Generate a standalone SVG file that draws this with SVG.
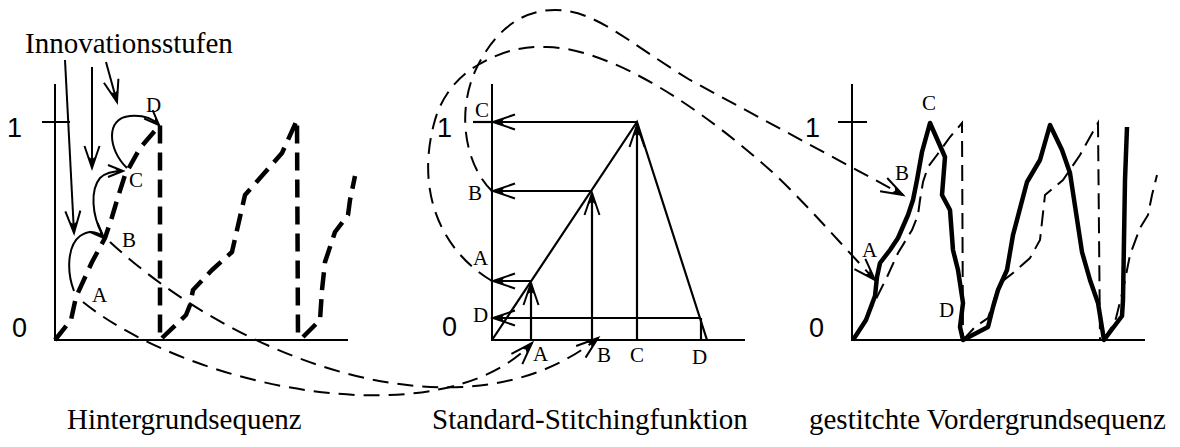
<svg xmlns="http://www.w3.org/2000/svg" width="1180" height="447" viewBox="0 0 1180 447">
<style>
.ax{stroke:#000;stroke-width:2;fill:none}
.ln{stroke:#000;stroke-width:2.2;fill:none}
.thk{stroke:#000;stroke-width:4.5;fill:none;stroke-dasharray:18 9;stroke-linejoin:round}
.thin{stroke:#000;stroke-width:2;fill:none;stroke-dasharray:16 9}
.bgd{stroke:#000;stroke-width:2;fill:none;stroke-dasharray:16 8}
.fg{stroke:#000;stroke-width:4.5;fill:none;stroke-linejoin:round}
.arr{stroke:#000;stroke-width:2;fill:none}
.num{font-family:"Liberation Sans",Arial,sans-serif;font-size:27px;fill:#000}
.let{font-family:"Liberation Serif","Times New Roman",serif;font-size:21px;fill:#000}
.cap{font-family:"Liberation Serif","Times New Roman",serif;font-size:29px;fill:#000}
.ttl{font-family:"Liberation Serif","Times New Roman",serif;font-size:29px;fill:#000}
</style>
<defs>
<marker id="ah" markerUnits="userSpaceOnUse" markerWidth="30" markerHeight="20" viewBox="-24 -10 30 20" refX="0" refY="0" orient="auto" overflow="visible">
<path d="M-22,-7.5 L0,0 L-22,7.5" fill="none" stroke="#000" stroke-width="2"/>
<path d="M0,0 L-11,-3.2 L-9,0 L-11,3.2Z" fill="#000"/>
</marker>
<marker id="as" markerUnits="userSpaceOnUse" markerWidth="20" markerHeight="14" viewBox="-16 -7 20 14" refX="0" refY="0" orient="auto" overflow="visible">
<path d="M-15,-6 L0,0 L-15,6" fill="none" stroke="#000" stroke-width="2"/>
<path d="M0,0 L-8,-2.5 L-6,0 L-8,2.5Z" fill="#000"/>
</marker>
</defs>
<rect width="1180" height="447" fill="#fff"/>

<g id="panel-hintergrund">
<path class="ax" d="M55,84 L55,340 L348,340 M42,122 L70,122"/>
<text class="num" x="7" y="137">1</text>
<text class="num" x="12" y="337">0</text>
<path class="thk" d="M55,340 L71,320 L76,297 L92,262 L105,238 L112,217 L118,197 L125,175 L140,148 L160,125 L160,340"/>
<path class="thk" d="M162,338 L186,315 L190,305 L193,290 L212,270 L232,252 L245,195 L282,153 L297,120 L298,340"/>
<path class="thk" d="M303,337 L320,320 L322,290 L325,262 L335,232 L348,215 L350,200 L355,176"/>
<text class="let" x="92" y="302">A</text>
<text class="let" x="122" y="247">B</text>
<text class="let" x="129" y="187">C</text>
<text class="let" x="146" y="112">D</text>
</g>

<g id="label-innovation">
<text class="ttl" x="25" y="53">Innovationsstufen</text>
</g>

<g id="panel-stitching">
<path class="ax" d="M492,84 L492,340 L745,340"/>
<text class="num" x="437" y="137">1</text>
<text class="num" x="442" y="336">0</text>
<path class="ln" d="M492,340 L637,122 L707,340"/>
<path class="ln" d="M473,122 L492,122"/>
<path class="ln" d="M701,318 L701,340"/>
<text class="let" x="475" y="117">C</text>
<text class="let" x="468" y="200">B</text>
<text class="let" x="473" y="265">A</text>
<text class="let" x="473" y="322">D</text>
<text class="let" x="533" y="361">A</text>
<text class="let" x="597" y="362">B</text>
<text class="let" x="630" y="362">C</text>
<text class="let" x="692" y="364">D</text>
</g>

<g id="panel-vordergrund">
<path class="ax" d="M852,84 L852,340 L1145,340 M838,122 L867,122"/>
<text class="num" x="805" y="137">1</text>
<text class="num" x="809" y="337">0</text>
<path class="bgd" d="M853,340 L860,330 L877,297 L887,277 L898,253 L912,230 L918,215 L920,200 L923,182 L928,167 L937,155 L950,137 L962,123 L963,340"/>
<path class="bgd" d="M963,340 L975,327 L988,318 L1000,283 L1013,273 L1030,258 L1040,240 L1045,195 L1063,180 L1080,155 L1090,137 L1098,123 L1100,340"/>
<path class="bgd" d="M1103,340 L1115,322 L1123,290 L1130,255 L1140,228 L1148,215 L1152,195 L1157,175"/>
<path class="fg" d="M853,340 L866,320 L875,296 L877,277 L880,263 L890,250 L898,238 L908,215 L913,200 L917,180 L922,152 L930,123 L945,157 L942,195 L950,210 L953,250 L958,270 L963,303 L960,327 L963,340 L988,327 L993,307 L998,290 L1007,270 L1013,235 L1027,182 L1040,160 L1050,125 L1062,150 L1070,173 L1082,252 L1090,280 L1098,303 L1104,340 L1122,316 L1123,300 L1125,180 L1127,127"/>
<text class="let" x="922" y="110">C</text>
<text class="let" x="895" y="180">B</text>
<text class="let" x="862" y="257">A</text>
<text class="let" x="939" y="317">D</text>
</g>

<g id="captions">
<text class="cap" x="67" y="429">Hintergrundsequenz</text>
<text class="cap" x="432" y="429">Standard-Stitchingfunktion</text>
<text class="cap" x="809" y="429">gestitchte Vordergrundsequenz</text>
</g>

<g id="connectors">
<path class="arr" d="M65,60 L74,233" marker-end="url(#ah)"/>
<path class="arr" d="M92,67 L92,168" marker-end="url(#ah)"/>
<path class="arr" d="M106,62 L117,102" marker-end="url(#ah)"/>
<path class="arr" d="M74,291 C66,270 68,245 80,236 C90,229 98,232 104,238" marker-end="url(#as)"/>
<path class="arr" d="M102,234 C92,215 90,190 100,178 C106,172 115,171 123,171" marker-end="url(#as)"/>
<path class="arr" d="M127,168 C108,150 105,118 130,116 C142,115 152,118 159,125" marker-end="url(#as)"/>
<path class="ln" d="M637,122 L493,122" marker-end="url(#ah)"/>
<path class="ln" d="M592,191 L493,191" marker-end="url(#ah)"/>
<path class="ln" d="M531,281 L493,281" marker-end="url(#ah)"/>
<path class="ln" d="M701,318 L493,318" marker-end="url(#ah)"/>
<path class="ln" d="M531,340 L531,283" marker-end="url(#ah)"/>
<path class="ln" d="M592,340 L592,193" marker-end="url(#ah)"/>
<path class="ln" d="M637,340 L637,125" marker-end="url(#ah)"/>
<path class="thin" d="M83,302 C190,388 440,440 532,343" marker-end="url(#ah)"/>
<path class="thin" d="M110,242 C240,362 465,445 598,338" marker-end="url(#ah)"/>
<path class="thin" d="M492,191 C465,165 455,110 478,65 C495,32 520,10 555,10 C595,10 625,40 690,80 L903,195" marker-end="url(#ah)"/>
<path class="thin" d="M492,281 C440,250 415,190 435,120 C441,99 455,78 478,65 C500,52 520,46 547,47 C600,48 680,90 770,170 C800,197 840,243 875,280" marker-end="url(#ah)"/>
</g>
</svg>
